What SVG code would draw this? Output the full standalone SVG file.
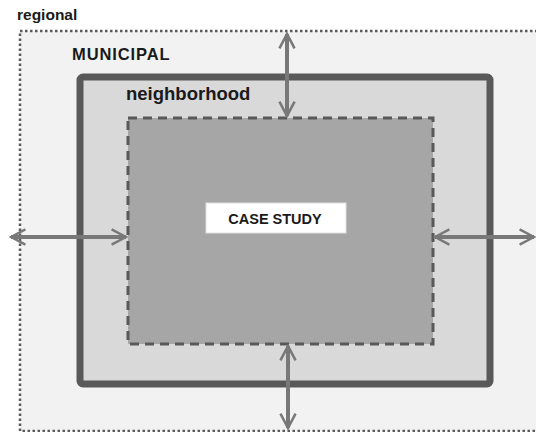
<svg xmlns="http://www.w3.org/2000/svg" width="536" height="432" viewBox="0 0 536 432">
<defs>
<style>
.lbl{font-family:"Liberation Sans",Arial,sans-serif;fill:#1a1a1a;font-weight:bold}
.arr{stroke:#787878;stroke-width:4;fill:none}
</style>
<marker id="ah" viewBox="0 0 10 10" refX="9" refY="5" markerWidth="4.5" markerHeight="4.5" orient="auto-start-reverse" markerUnits="strokeWidth">
<path d="M1,0.8 L9,5 L1,9.2" fill="none" stroke="#787878" stroke-width="1.4"/>
</marker>
</defs>
<rect width="536" height="432" fill="#ffffff"/>
<g id="regional">
<rect x="20" y="31" width="530" height="400" fill="#f2f2f2" stroke="#5a5a5a" stroke-width="2.5" stroke-dasharray="2.5,2.5"/>
<text class="lbl" x="17" y="20" font-size="15.5">regional</text>
</g>
<g id="municipal">
<rect x="80" y="77" width="410" height="307" rx="3" fill="#d9d9d9" stroke="#595959" stroke-width="7"/>
<text class="lbl" x="72" y="60" font-size="16.5" letter-spacing="0.9">MUNICIPAL</text>
</g>
<g id="neighborhood">
<rect x="128" y="118" width="305" height="226" fill="#a6a6a6" stroke="#595959" stroke-width="3" stroke-dasharray="9,6"/>
<text class="lbl" x="126" y="100" font-size="18.5">neighborhood</text>
</g>
<g id="case-study">
<rect x="206" y="203" width="140" height="30" fill="#ffffff" stroke="#e0e0e0" stroke-width="1"/>
<text class="lbl" x="275" y="223.5" font-size="14.5" text-anchor="middle">CASE STUDY</text>
</g>
<g id="connectors">
<line class="arr" x1="287" y1="34" x2="287" y2="116" marker-start="url(#ah)" marker-end="url(#ah)"/>
<line class="arr" x1="288" y1="346" x2="288" y2="428" marker-start="url(#ah)" marker-end="url(#ah)"/>
<line class="arr" x1="11" y1="237" x2="126" y2="237" marker-start="url(#ah)" marker-end="url(#ah)"/>
<line class="arr" x1="435" y1="237" x2="534" y2="237" marker-start="url(#ah)" marker-end="url(#ah)"/>
</g>
</svg>
